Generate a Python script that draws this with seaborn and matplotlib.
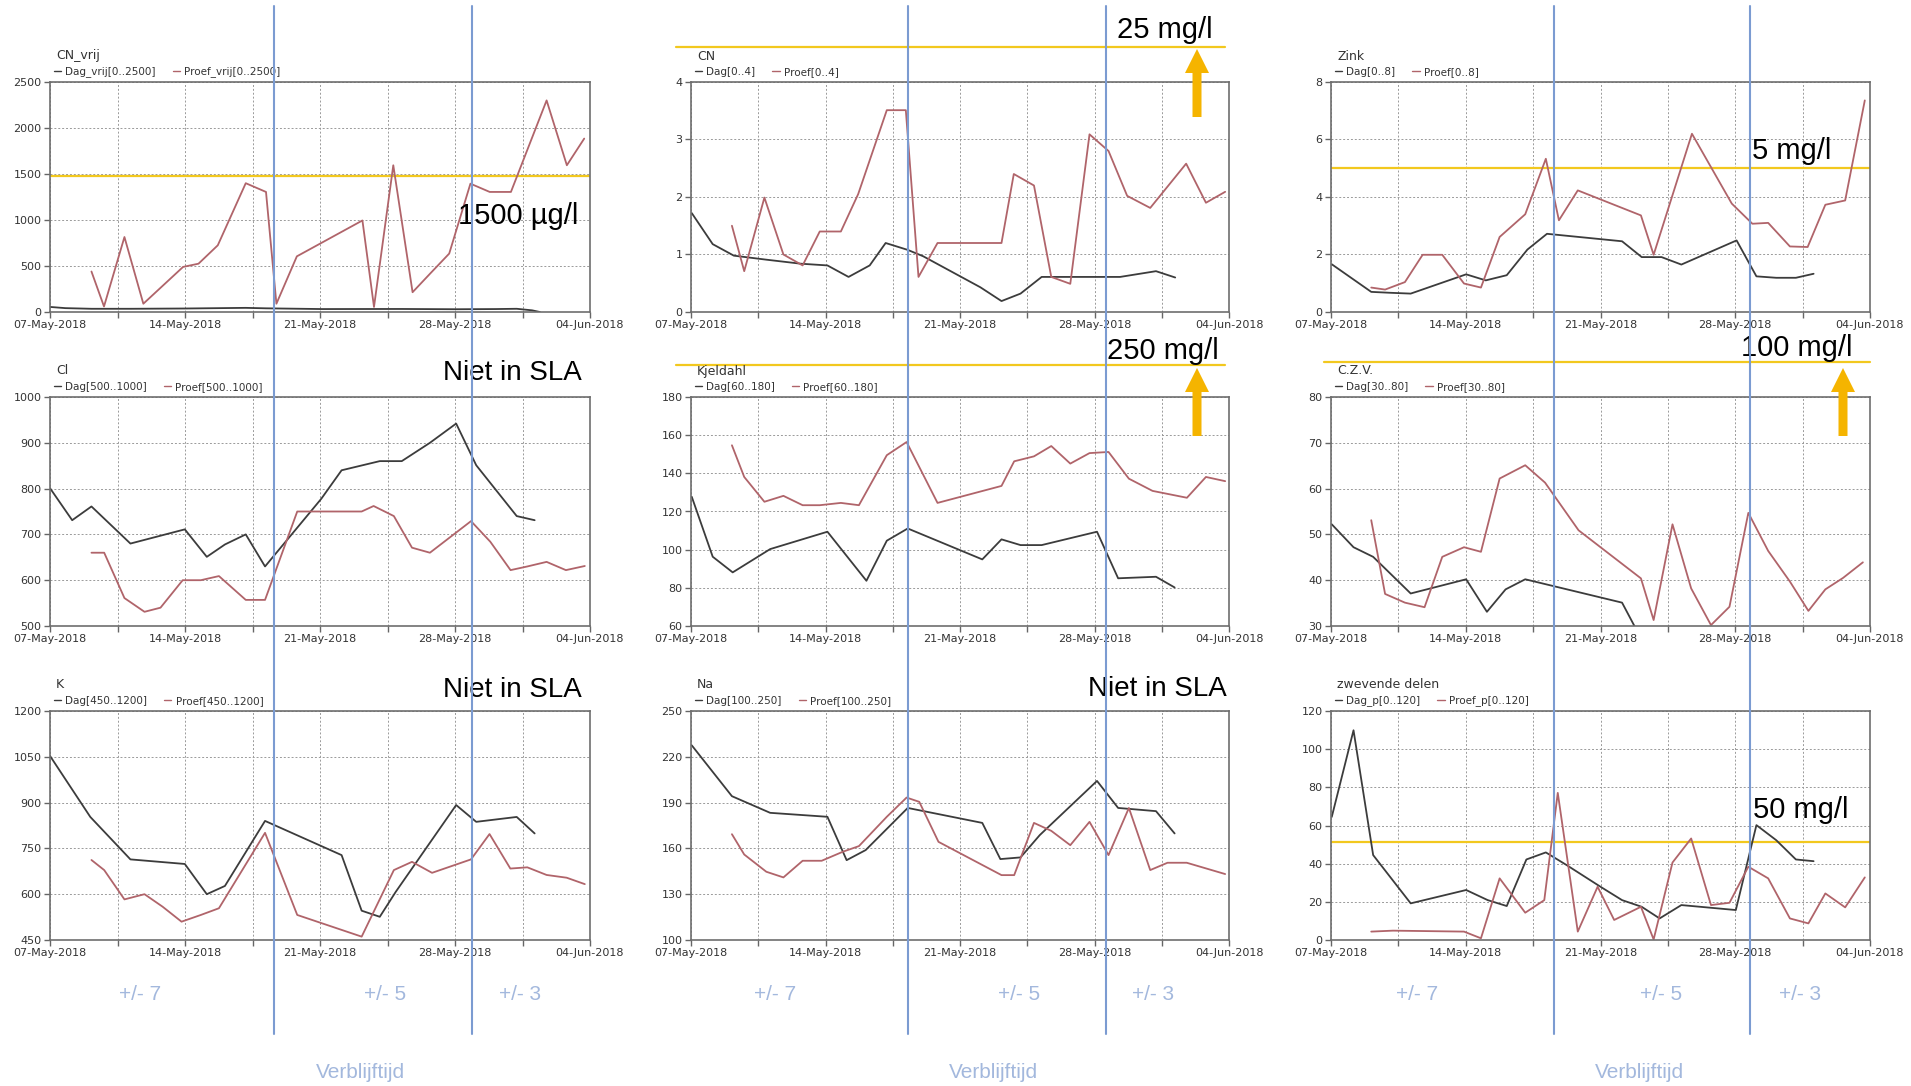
import pandas as pd
import matplotlib
matplotlib.use("Agg")
import matplotlib.pyplot as plt
import matplotlib.dates as mdates
from matplotlib.lines import Line2D
from matplotlib.patches import FancyArrow
import seaborn as sns

# ---- data: times are days after 07-May-2018 ----
cnvrij_dag_t = [0.0, 0.8, 2.15, 4.2, 7.0, 10.15, 11.2, 14.1, 18.2, 21.1, 23.1, 24.2, 25.0, 25.4]
cnvrij_dag = [55, 42, 35, 35, 38, 45, 40, 32, 33, 30, 32, 35, 18, 0]
cnvrij_proef_t = [2.15, 2.8, 3.86, 4.84, 6.9, 7.7, 8.7, 10.15, 11.2, 11.74, 12.8, 16.2, 16.8,
                  17.8, 18.8, 19.7, 20.7, 21.8, 22.8, 23.9, 25.75, 26.8, 27.7]
cnvrij_proef = [440, 60, 815, 90, 490, 525, 725, 1400, 1305, 90, 605, 995, 55,
                1595, 215, 415, 635, 1395, 1305, 1305, 2300, 1595, 1885]

cn_dag_t = [0.04, 1.13, 2.23, 3.92, 5.71, 7.1, 8.2, 9.3, 10.13, 11.28, 12.08, 15.06, 16.16,
            17.15, 18.25, 22.33, 24.2, 25.2]
cn_dag = [1.72, 1.18, 0.98, 0.91, 0.84, 0.81, 0.61, 0.81, 1.20, 1.08, 0.97, 0.43, 0.19,
          0.32, 0.61, 0.61, 0.71, 0.60]
cn_proef_t = [2.13, 2.77, 3.82, 4.81, 5.81, 6.7, 7.8, 8.7, 10.19, 11.18, 11.84, 12.83, 16.16,
              16.8, 17.85, 18.75, 19.74, 20.74, 21.73, 22.7, 23.9, 25.77, 26.8, 27.8]
cn_proef = [1.50, 0.71, 1.99, 1.0, 0.81, 1.40, 1.40, 2.05, 3.51, 3.51, 0.61, 1.20, 1.20,
            2.40, 2.20, 0.61, 0.49, 3.09, 2.80, 2.02, 1.81, 2.58, 1.90, 2.09]

zink_dag_t = [0.04, 2.09, 3.02, 4.14, 7.02, 8.04, 9.13, 10.2, 11.22, 15.12, 16.14, 17.17,
              18.2, 21.07, 22.1, 23.13, 24.15, 25.07]
zink_dag = [1.66, 0.70, 0.67, 0.64, 1.31, 1.10, 1.28, 2.17, 2.72, 2.46, 1.91, 1.91,
            1.65, 2.49, 1.24, 1.19, 1.19, 1.33]
zink_proef_t = [2.09, 2.81, 3.84, 4.76, 5.78, 6.91, 7.79, 8.76, 10.09, 11.16, 11.84, 12.82,
                16.1, 16.76, 18.75, 20.82, 21.89, 22.71, 23.84, 24.76, 25.68, 26.71, 27.73]
zink_proef = [0.85, 0.78, 1.04, 1.99, 1.99, 0.99, 0.85, 2.61, 3.40, 5.33, 3.19, 4.23,
              3.36, 1.99, 6.20, 3.77, 3.07, 3.10, 2.28, 2.26, 3.73, 3.88, 7.36]

cl_dag_t = [0.0, 1.15, 2.15, 4.17, 6.99, 8.13, 9.07, 10.15, 11.15, 14.07, 15.12, 17.1,
            18.24, 19.7, 21.06, 22.1, 24.2, 25.13]
cl_dag = [801, 731, 761, 680, 711, 651, 678, 700, 630, 778, 840, 860, 860, 900, 942, 851, 740, 731]
cl_proef_t = [2.15, 2.81, 3.86, 4.9, 5.73, 6.88, 7.82, 8.76, 10.15, 11.15, 12.82, 16.16,
              16.78, 17.83, 18.77, 19.7, 21.83, 22.83, 23.88, 24.75, 25.75, 26.75, 27.73]
cl_proef = [660, 660, 561, 531, 540, 600, 600, 609, 557, 557, 750, 750,
            762, 740, 671, 660, 729, 684, 622, 630, 640, 622, 631]

kj_dag_t = [0.04, 1.13, 2.17, 4.12, 7.1, 9.13, 10.19, 11.28, 15.16, 16.16, 17.15, 18.25,
            21.13, 22.23, 24.2, 25.17]
kj_dag = [127.7, 96.3, 88.1, 100.3, 109.4, 83.7, 104.7, 111.1, 94.9, 105.4, 102.4, 102.4,
          109.4, 85.0, 85.8, 80.2]
kj_proef_t = [2.13, 2.77, 3.82, 4.81, 5.81, 6.7, 7.8, 8.74, 10.19, 11.22, 12.83, 16.16,
              16.82, 17.85, 18.75, 19.74, 20.74, 21.73, 22.79, 24.02, 25.81, 26.8, 27.8]
kj_proef = [154.7, 138.1, 125.1, 128.2, 123.3, 123.3, 124.5, 123.3, 149.5, 156.4, 124.5, 133.4,
            146.3, 148.9, 154.3, 145.1, 150.6, 151.2, 137.2, 130.8, 127.2, 138.1, 135.9]

czv_dag_t = [0.04, 1.17, 2.19, 4.14, 7.02, 8.1, 9.07, 10.09, 15.12, 16.14]
czv_dag = [52.2, 47.2, 45.1, 37.1, 40.2, 33.1, 38.0, 40.2, 35.1, 27.0]
czv_proef_t = [2.09, 2.81, 3.84, 4.86, 5.78, 6.91, 7.79, 8.76, 10.09, 11.12, 12.86, 16.1,
               16.76, 17.74, 18.71, 19.74, 20.7, 21.68, 22.71, 23.84, 24.8, 25.68, 26.6, 27.63]
czv_proef = [53.1, 37.0, 35.1, 34.1, 45.1, 47.2, 46.2, 62.2, 65.1, 61.3, 50.9, 40.4,
             31.3, 52.2, 38.2, 30.2, 34.2, 54.7, 46.4, 39.7, 33.3, 38.0, 40.5, 43.9]

k_dag_t = [0.0, 2.09, 4.17, 6.99, 8.13, 9.07, 11.15, 15.12, 16.16, 17.1, 17.93, 21.06,
           22.1, 24.2, 25.13]
k_dag = [1053, 853, 714, 699, 600, 627, 840, 728, 546, 526, 608, 892, 837, 853, 799]
k_proef_t = [2.15, 2.81, 3.86, 4.9, 5.84, 6.82, 7.82, 8.76, 11.15, 12.82, 16.16, 17.83,
             18.77, 19.81, 21.83, 22.79, 23.87, 24.75, 25.75, 26.79, 27.73]
k_proef = [712, 679, 583, 600, 559, 510, 532, 554, 801, 532, 461, 679,
           706, 670, 714, 797, 684, 688, 663, 654, 633]

na_dag_t = [0.04, 2.13, 4.12, 7.1, 8.1, 9.09, 11.28, 15.16, 16.1, 17.15, 18.15, 21.13,
            22.23, 24.2, 25.17]
na_dag = [227.5, 194.2, 183.3, 180.7, 152.3, 158.9, 186.5, 176.7, 153.0, 154.1, 168.7, 204.2,
          186.5, 184.4, 169.8]
na_proef_t = [2.13, 2.77, 3.92, 4.81, 5.81, 6.8, 7.9, 8.74, 10.19, 11.22, 11.88, 12.88,
              16.16, 16.82, 17.85, 18.75, 19.74, 20.74, 21.73, 22.79, 23.9, 24.8, 25.8, 27.8]
na_proef = [169.3, 156.0, 144.7, 141.0, 151.9, 151.9, 157.8, 161.5, 180.7, 193.3, 190.5, 164.3,
            142.5, 142.5, 176.7, 171.5, 162.1, 177.4, 155.6, 186.5, 145.8, 150.6, 150.6, 143.2]

zd_dag_t = [0.04, 1.17, 2.19, 4.14, 7.02, 8.14, 9.13, 10.15, 11.16, 12.25, 14.0, 15.12,
            16.14, 17.07, 18.2, 21.03, 22.1, 23.13, 24.15, 25.07]
zd_dag = [64.5, 109.9, 44.5, 19.2, 26.2, 20.9, 17.8, 42.2, 45.9, 39.2, 27.9, 20.9,
          17.4, 11.3, 18.3, 15.7, 60.2, 52.3, 42.2, 41.3]
zd_proef_t = [2.09, 3.22, 6.91, 7.79, 8.76, 10.09, 11.08, 11.78, 12.82, 13.85, 14.71, 16.1,
              16.76, 17.74, 18.71, 19.74, 20.7, 21.68, 22.71, 23.84, 24.8, 25.68, 26.71, 27.73]
zd_proef = [4.4, 4.9, 4.4, 0.9, 32.3, 14.3, 20.9, 77.1, 4.4, 27.9, 10.5, 17.4,
            0.3, 40.6, 53.2, 18.3, 19.5, 38.4, 32.3, 11.3, 8.7, 24.4, 17.1, 32.8]

titles = ["CN_vrij", "CN", "Zink", "Cl", "Kjeldahl", "C.Z.V.", "K", "Na", "zwevende delen"]
dag_labels = ["Dag_vrij[0..2500]", "Dag[0..4]", "Dag[0..8]", "Dag[500..1000]", "Dag[60..180]",
              "Dag[30..80]", "Dag[450..1200]", "Dag[100..250]", "Dag_p[0..120]"]
proef_labels = ["Proef_vrij[0..2500]", "Proef[0..4]", "Proef[0..8]", "Proef[500..1000]",
                "Proef[60..180]", "Proef[30..80]", "Proef[450..1200]", "Proef[100..250]",
                "Proef_p[0..120]"]
y_ranges = [(0, 2500, 500), (0, 4, 1), (0, 8, 2), (500, 1000, 100), (60, 180, 20),
            (30, 80, 10), (450, 1200, 150), (100, 250, 30), (0, 120, 20)]
series = [
    (cnvrij_dag_t, cnvrij_dag, cnvrij_proef_t, cnvrij_proef),
    (cn_dag_t, cn_dag, cn_proef_t, cn_proef),
    (zink_dag_t, zink_dag, zink_proef_t, zink_proef),
    (cl_dag_t, cl_dag, cl_proef_t, cl_proef),
    (kj_dag_t, kj_dag, kj_proef_t, kj_proef),
    (czv_dag_t, czv_dag, czv_proef_t, czv_proef),
    (k_dag_t, k_dag, k_proef_t, k_proef),
    (na_dag_t, na_dag, na_proef_t, na_proef),
    (zd_dag_t, zd_dag, zd_proef_t, zd_proef),
]
# limit lines inside the axes (panel index -> value)
limit_values = {0: 1480, 2: 5.0, 8: 51.5}

START = pd.Timestamp("2018-05-07")
W, H = 1911, 1086
DAG_C = "#3c3c3c"
PROEF_C = "#b0646a"
YELLOW = "#f2c81e"
ORANGE = "#f5b400"
BLUE = "#7b9bd1"
LIGHT_BLUE = "#a3b8dd"

sns.set_style("white")
plt.rcParams["font.family"] = ["DejaVu Sans"]
BIG_FONT = ["Liberation Sans", "DejaVu Sans"]
NARROW_FONT = ["Liberation Sans Narrow", "Liberation Sans", "DejaVu Sans"]


def fx(px):
    return px / W


def fy(py):
    return 1 - py / H


fig = plt.figure(figsize=(W / 100, H / 100), dpi=100)

cols = [(50, 590), (691, 1229), (1331, 1870)]
rows = [(82, 312), (397, 626), (711, 940)]

major_dates = pd.date_range(START, periods=5, freq="7D")
minor_dates = major_dates[:-1] + pd.Timedelta(hours=84)

for i in range(9):
    l, r = cols[i % 3]
    t, b = rows[i // 3]
    ax = fig.add_axes([fx(l), fy(b), (r - l) / W, (b - t) / H])

    dag_t, dag, proef_t, proef = series[i]
    df = pd.concat([
        pd.DataFrame({"tijd": START + pd.to_timedelta(dag_t, unit="D"),
                      "waarde": dag, "reeks": dag_labels[i]}),
        pd.DataFrame({"tijd": START + pd.to_timedelta(proef_t, unit="D"),
                      "waarde": proef, "reeks": proef_labels[i]}),
    ], ignore_index=True)
    sns.lineplot(data=df, x="tijd", y="waarde", hue="reeks",
                 palette={dag_labels[i]: DAG_C, proef_labels[i]: PROEF_C},
                 estimator=None, sort=False, linewidth=1.3, legend=False, ax=ax)

    if i in limit_values:
        ax.axhline(limit_values[i], color=YELLOW, lw=1.6, zorder=1)

    y0, y1, step = y_ranges[i]
    ax.set_ylim(y0, y1)
    ax.set_yticks(list(range(y0, y1 + 1, step)))
    ax.set_xlim(major_dates[0], major_dates[-1])
    ax.set_xticks(major_dates)
    ax.set_xticks(minor_dates, minor=True)
    ax.xaxis.set_major_formatter(mdates.DateFormatter("%d-%b-%Y"))
    ax.set_xlabel("")
    ax.set_ylabel("")
    ax.grid(True, which="both", linestyle=(0, (2, 2)), color="#9a9a9a", lw=0.7)
    ax.tick_params(which="both", bottom=True, left=True, direction="out", length=4,
                   width=1, color="#666666", labelsize=8, labelcolor="#333333", pad=2)
    for sp in ax.spines.values():
        sp.set_color("#6e6e6e")
        sp.set_linewidth(1.2)

    fig.text(fx(l + 6), fy(t - 26), titles[i], fontsize=9, color="#333333",
             ha="left", va="center")
    handles = [Line2D([], [], color=DAG_C, lw=1), Line2D([], [], color=PROEF_C, lw=1)]
    ax.legend(handles, [dag_labels[i], proef_labels[i]], ncol=2, loc="center left",
              bbox_to_anchor=(fx(l + 4), fy(t - 10)), bbox_transform=fig.transFigure,
              frameon=False, fontsize=7.5, handlelength=0.7, handletextpad=0.4,
              columnspacing=1.6, borderaxespad=0, borderpad=0, labelcolor="#333333")

# limit lines above the axes
for x0, x1, y in [(676, 1225, 47), (676, 1225, 365), (1324, 1870, 362)]:
    fig.add_artist(Line2D([fx(x0), fx(x1)], [fy(y), fy(y)], color=YELLOW, lw=1.6,
                          transform=fig.transFigure))

# orange arrows (coordinates in inches, isotropic)
for x, y_tail, y_tip in [(1197, 117, 49), (1197, 436, 368), (1843, 436, 368)]:
    fig.add_artist(FancyArrow(x / 100, (H - y_tail) / 100, 0, (y_tail - y_tip) / 100,
                              width=0.09, head_width=0.24, head_length=0.24,
                              length_includes_head=True, color=ORANGE, lw=0,
                              transform=fig.dpi_scale_trans, zorder=5))

annotations = [
    ("1500 µg/l", 518, 216, 21), ("25 mg/l", 1165, 30, 21), ("5 mg/l", 1792, 151, 21),
    ("Niet in SLA", 512, 373, 20), ("250 mg/l", 1163, 351, 21), ("100 mg/l", 1797, 348, 21),
    ("Niet in SLA", 512, 690, 20), ("Niet in SLA", 1157, 689, 20), ("50 mg/l", 1801, 810, 21),
]
for txt, x, y, size in annotations:
    fig.text(fx(x), fy(y), txt, fontsize=size, family=BIG_FONT, color="black",
             ha="center", va="center")

# residence-time separators
for x in [274, 472, 908, 1105.5, 1554, 1750]:
    fig.add_artist(Line2D([fx(x), fx(x)], [fy(6), fy(1034)], color=BLUE, lw=1.5,
                          transform=fig.transFigure, zorder=10))

for txt, x in [("+/- 7", 140), ("+/- 5", 385), ("+/- 3", 520),
               ("+/- 7", 775), ("+/- 5", 1019), ("+/- 3", 1153),
               ("+/- 7", 1417), ("+/- 5", 1661), ("+/- 3", 1800)]:
    fig.text(fx(x), fy(995), txt, fontsize=15, family=NARROW_FONT, color=LIGHT_BLUE,
             ha="center", va="center")
for x in [360, 993, 1639]:
    fig.text(fx(x), fy(1073), "Verblijftijd", fontsize=15, family=NARROW_FONT,
             color=LIGHT_BLUE, ha="center", va="center")

fig.savefig("out.png", dpi=100)
